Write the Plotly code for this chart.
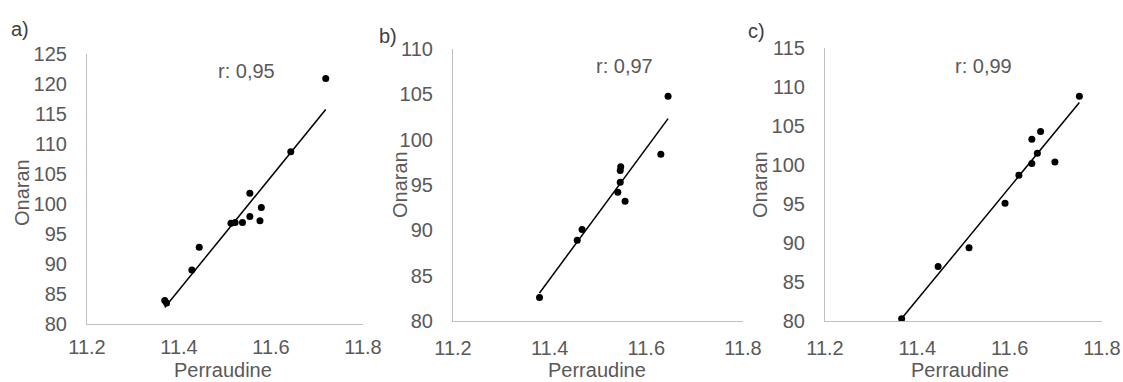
import numpy as np
import plotly.graph_objects as go

W, H = 1123, 382

# ---- data ----
a_x = [11.369, 11.373, 11.428, 11.444, 11.513, 11.522, 11.538, 11.554, 11.554, 11.576, 11.579, 11.643, 11.719]
a_y = [83.9, 83.5, 89.0, 92.8, 96.8, 96.9, 96.9, 101.8, 97.9, 97.2, 99.4, 108.7, 120.9]
b_x = [11.379, 11.457, 11.467, 11.541, 11.546, 11.546, 11.547, 11.556, 11.630, 11.645]
b_y = [82.6, 88.9, 90.1, 94.2, 95.3, 96.6, 97.0, 93.2, 98.4, 104.8]
c_x = [11.366, 11.445, 11.512, 11.590, 11.620, 11.648, 11.648, 11.660, 11.667, 11.698, 11.751]
c_y = [80.3, 87.0, 89.4, 95.1, 98.7, 100.2, 103.3, 101.5, 104.3, 100.4, 108.8]

panel_labels = ["a)", "b)", "c)"]
r_labels = ["r: 0,95", "r: 0,97", "r: 0,99"]
x_title = "Perraudine"
y_title = "Onaran"
x_range = [11.2, 11.8]
x_ticks = [11.2, 11.4, 11.6, 11.8]
y_ranges = [[80, 125], [80, 110], [80, 115]]
y_dtick = 5

# ---- layout geometry (pixels) ----
# plot areas: (left, right, top, bottom)
areas = [(87, 363, 54, 324), (453, 743, 49, 321), (825, 1102, 48, 321)]
x_standoff = [5, 9, 9]
TXT = "#595959"
AX = "#bfbfbf"
FONT = "Liberation Sans, Arial, sans-serif"
FS = 20

def px_x(p):
    return p / W

def px_y(p):
    return 1 - p / H

fig = go.Figure()
datasets = [(a_x, a_y), (b_x, b_y), (c_x, c_y)]
for i, (xs, ys) in enumerate(datasets):
    n = i + 1
    xa = "x" if n == 1 else f"x{n}"
    ya = "y" if n == 1 else f"y{n}"
    xs_arr = np.array(xs)
    ys_arr = np.array(ys)
    slope, icpt = np.polyfit(xs_arr, ys_arr, 1)
    lx = np.array([xs_arr.min(), xs_arr.max()])
    fig.add_trace(go.Scatter(x=lx, y=slope * lx + icpt, mode="lines",
                             line=dict(color="black", width=1.5),
                             xaxis=xa, yaxis=ya, showlegend=False, hoverinfo="skip"))
    fig.add_trace(go.Scatter(x=xs, y=ys, mode="markers",
                             marker=dict(color="black", size=7),
                             xaxis=xa, yaxis=ya, showlegend=False))
    l, r, t, b = areas[i]
    xkey = "xaxis" if n == 1 else f"xaxis{n}"
    ykey = "yaxis" if n == 1 else f"yaxis{n}"
    fig.layout[xkey] = dict(domain=[px_x(l), px_x(r)], range=x_range, tickvals=x_ticks,
                            ticktext=[f"{v:.1f}" for v in x_ticks],
                            showgrid=False, zeroline=False, showline=True,
                            linecolor=AX, linewidth=1.2, ticks="",
                            ticklabelstandoff=x_standoff[i], automargin=False,
                            tickfont=dict(family=FONT, size=FS, color=TXT),
                            anchor=ya)
    fig.layout[ykey] = dict(domain=[px_y(b), px_y(t)], range=y_ranges[i], dtick=y_dtick,
                            tick0=80, showgrid=False, zeroline=False, showline=True,
                            linecolor=AX, linewidth=1.2, ticks="",
                            ticklabelstandoff=15, automargin=False,
                            tickfont=dict(family=FONT, size=FS, color=TXT),
                            anchor=xa)

annos = []
lab_pos = [(20, 29), (388, 36), (757, 31)]
r_pos = [(246, 71), (624, 66), (983, 66)]
yt_pos = [(22, 193), (400, 185), (760, 185)]
xt_pos = [(223, 370), (597, 370), (960, 370)]
for i in range(3):
    annos.append(dict(text=panel_labels[i], x=px_x(lab_pos[i][0]), y=px_y(lab_pos[i][1]),
                      xref="paper", yref="paper", showarrow=False,
                      xanchor="center", yanchor="middle",
                      font=dict(family=FONT, size=FS, color="#404040")))
    annos.append(dict(text=r_labels[i], x=px_x(r_pos[i][0]), y=px_y(r_pos[i][1]),
                      xref="paper", yref="paper", showarrow=False,
                      xanchor="center", yanchor="middle",
                      font=dict(family=FONT, size=FS, color=TXT)))
    annos.append(dict(text=y_title, x=px_x(yt_pos[i][0]), y=px_y(yt_pos[i][1]),
                      xref="paper", yref="paper", showarrow=False, textangle=-90,
                      xanchor="center", yanchor="middle",
                      font=dict(family=FONT, size=FS, color=TXT)))
    annos.append(dict(text=x_title, x=px_x(xt_pos[i][0]), y=px_y(xt_pos[i][1]),
                      xref="paper", yref="paper", showarrow=False,
                      xanchor="center", yanchor="middle",
                      font=dict(family=FONT, size=FS, color=TXT)))

fig.update_layout(width=W, height=H, margin=dict(l=0, r=0, t=0, b=0, autoexpand=False),
                  paper_bgcolor="white", plot_bgcolor="white",
                  annotations=annos, showlegend=False)

fig.write_html("out.html")
